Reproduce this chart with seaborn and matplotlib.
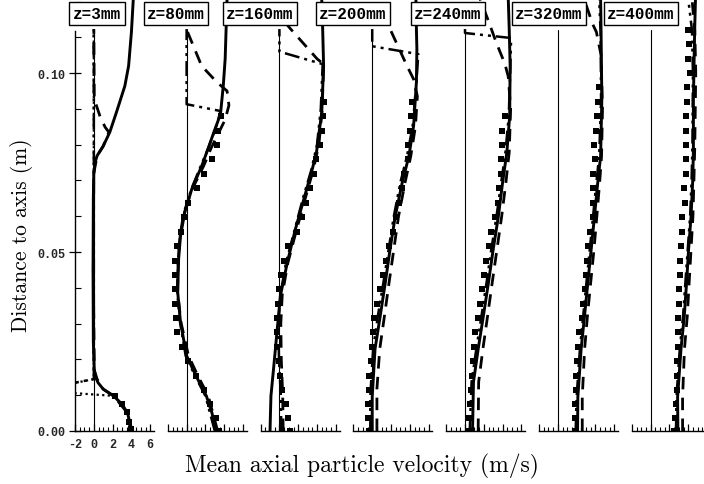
import numpy as np
import matplotlib
matplotlib.use("Agg")
import matplotlib.pyplot as plt
from matplotlib.ticker import MultipleLocator, FixedLocator
import seaborn as sns

sns.set_theme(style="white")
plt.rcParams["axes.unicode_minus"] = False

# ---------------- data ----------------
z_labels = ["z=3mm", "z=80mm", "z=160mm", "z=200mm", "z=240mm", "z=320mm", "z=400mm"]
y_ticks = [0.0, 0.05, 0.10]
y_tick_labels = ["0.00", "0.05", "0.10"]
x_ticks = [-2, 0, 2, 4, 6]
x_tick_labels = ["-2", "0", "2", "4", "6"]

# z = 3 mm
r_sol_1 = [0, 0.0025, 0.005, 0.0075, 0.0098, 0.0117, 0.0135, 0.0150, 0.0170, 0.025, 0.045, 0.065, 0.072, 0.0750, 0.0769, 0.0796, 0.0835, 0.0890, 0.0964, 0.1020, 0.1115, 0.1207]
u_sol_1 = [3.95, 3.8, 3.6, 3.0, 2.1, 1.0, 0.45, 0.2, 0.05, -0.05, -0.08, -0.05, 0.0, 0.12, 0.35, 1.0, 1.7, 2.4, 3.3, 3.7, 4.0, 4.2]
r_das_1 = [0, 0.005, 0.0098, 0.0117, 0.0145, 0.017, 0.045, 0.072, 0.0769, 0.0796, 0.0835, 0.0849, 0.088, 0.0927, 0.1123]
u_das_1 = [3.95, 3.6, 2.1, 1.0, 0.35, 0.05, -0.05, 0.0, 0.35, 1.0, 1.6, 1.2, 0.65, 0.05, 0.0]
r_dd_1 = [0.0125, 0.0145, 0.03, 0.06, 0.1123]
u_dd_1 = [-4.0, 0.0, 0.0, 0.0, 0.0]
r_dot_1 = [0, 0.005, 0.0098, 0.0113, 0.0145, 0.1123]
u_dot_1 = [3.95, 3.6, 2.2, -6.0, 0.0, 0.0]
r_exp_1 = [0.0006, 0.0025, 0.0053, 0.0075, 0.0099]
u_exp_1 = [3.92, 3.78, 3.5, 2.97, 2.25]

# z = 80 mm
r_sol_2 = [0, 0.005, 0.0098, 0.0154, 0.021, 0.0304, 0.0388, 0.048, 0.0545, 0.061, 0.0676, 0.074, 0.079, 0.0835, 0.0885, 0.0965, 0.104, 0.1123, 0.1207]
u_sol_2 = [3.1, 2.7, 2.1, 1.0, 0.0, -0.65, -0.95, -0.85, -0.65, -0.2, 0.55, 1.6, 2.3, 2.9, 3.6, 3.9, 4.1, 4.2, 4.3]
r_das_2 = [0, 0.0098, 0.0154, 0.021, 0.0304, 0.0388, 0.048, 0.0545, 0.061, 0.0676, 0.074, 0.079, 0.087, 0.091, 0.095, 0.0975, 0.102, 0.1115, 0.1123]
u_das_2 = [3.3, 2.3, 1.2, 0.2, -0.6, -0.95, -0.9, -0.7, -0.3, 0.6, 1.8, 2.6, 4.1, 4.5, 4.3, 3.2, 1.6, 0.1, 0.0]
r_dd_2 = [0, 0.0098, 0.0154, 0.021, 0.0304, 0.0388, 0.048, 0.0545, 0.061, 0.0676, 0.074, 0.079, 0.0855, 0.0894, 0.0913, 0.1123]
u_dd_2 = [3.0, 2.0, 0.9, -0.1, -0.7, -1.0, -0.9, -0.7, -0.25, 0.5, 1.5, 2.3, 3.2, 3.6, 0.0, 0.0]
r_exp_2 = [0, 0.0036, 0.0075, 0.0115, 0.0154, 0.0195, 0.0235, 0.0276, 0.0316, 0.0356, 0.0396, 0.0436, 0.0476, 0.0516, 0.0556, 0.0597, 0.0637, 0.0678, 0.0718, 0.0759, 0.0799, 0.0839, 0.0879]
u_exp_2 = [3.4, 3.1, 2.5, 1.8, 1.0, 0.1, -0.5, -1.0, -1.15, -1.2, -1.2, -1.2, -1.2, -1.05, -0.6, -0.3, 0.2, 1.1, 1.8, 2.7, 3.2, 3.3, 3.7]

# z = 160 mm
r_sol_3 = [0, 0.0098, 0.018, 0.0265, 0.0377, 0.0472, 0.0564, 0.0648, 0.0732, 0.078, 0.089, 0.102, 0.1123, 0.1207]
u_sol_3 = [-1.0, -0.9, -0.6, -0.3, 0.1, 0.85, 1.7, 2.6, 3.5, 3.95, 4.5, 4.7, 4.6, 4.5]
r_das_3 = [0, 0.01, 0.02, 0.03, 0.038, 0.047, 0.056, 0.065, 0.073, 0.08, 0.09, 0.1025, 0.104, 0.1123, 0.116]
u_das_3 = [0.4, 0.35, 0.2, 0.15, 0.3, 0.9, 1.8, 2.75, 3.6, 4.2, 4.55, 4.7, 4.0, 1.2, 0.0]
r_dd_3 = [0, 0.01, 0.02, 0.03, 0.038, 0.047, 0.056, 0.065, 0.073, 0.08, 0.09, 0.1025, 0.106, 0.1123]
u_dd_3 = [0.2, 0.15, -0.05, -0.1, 0.1, 0.7, 1.6, 2.5, 3.4, 4.0, 4.4, 4.6, 0.0, 0.0]
r_exp_3 = [0, 0.0036, 0.0075, 0.0115, 0.0154, 0.0195, 0.0235, 0.0276, 0.0316, 0.0356, 0.0396, 0.0436, 0.0476, 0.0516, 0.0556, 0.0597, 0.0637, 0.0678, 0.0718, 0.0759, 0.0799, 0.0839, 0.0879, 0.092]
u_exp_3 = [1.1, 0.95, 0.65, 0.3, 0.1, 0.0, -0.25, -0.25, -0.25, -0.2, 0.0, 0.2, 0.45, 0.95, 1.9, 2.4, 2.8, 3.3, 3.7, 3.9, 4.3, 4.5, 4.6, 4.7]

# z = 200 mm
r_sol_4 = [0, 0.0095, 0.0229, 0.0321, 0.0416, 0.0508, 0.06, 0.0695, 0.0768, 0.0852, 0.0975, 0.1067, 0.1123, 0.1207]
u_sol_4 = [0.0, 0.0, 0.3, 0.85, 1.4, 1.9, 2.45, 3.2, 3.9, 4.4, 4.7, 4.75, 4.7, 4.65]
r_das_4 = [0, 0.0117, 0.0229, 0.0321, 0.0416, 0.0508, 0.06, 0.0695, 0.0768, 0.0852, 0.0935, 0.0983, 0.102, 0.1123, 0.118]
u_das_4 = [0.5, 0.5, 0.8, 1.3, 1.8, 2.3, 2.8, 3.5, 4.1, 4.6, 4.8, 4.4, 3.7, 1.9, 0.6]
r_dd_4 = [0, 0.01, 0.0229, 0.0321, 0.0416, 0.0508, 0.06, 0.0695, 0.0768, 0.0852, 0.0975, 0.1053, 0.1075, 0.1123]
u_dd_4 = [-0.2, -0.2, 0.1, 0.6, 1.2, 1.75, 2.3, 3.0, 3.7, 4.3, 4.7, 4.9, 0.0, 0.0]
r_exp_4 = [0, 0.0036, 0.0075, 0.0115, 0.0154, 0.0195, 0.0235, 0.0276, 0.0316, 0.0356, 0.0396, 0.0436, 0.0476, 0.0516, 0.0556, 0.0597, 0.0637, 0.0678, 0.0718, 0.0759, 0.0799, 0.0839, 0.0879, 0.092]
u_exp_4 = [-0.3, -0.4, -0.4, -0.3, -0.3, -0.15, 0.0, 0.1, 0.15, 0.5, 0.8, 1.1, 1.45, 1.8, 2.2, 2.55, 2.9, 3.2, 3.4, 3.85, 3.8, 4.0, 4.15, 4.2]

# z = 240 mm
r_sol_5 = [0, 0.0137, 0.0229, 0.0321, 0.0416, 0.0508, 0.06, 0.0695, 0.0779, 0.088, 0.102, 0.1123, 0.1207]
u_sol_5 = [0.8, 0.9, 1.4, 1.95, 2.5, 3.0, 3.55, 4.0, 4.45, 4.75, 4.8, 4.7, 4.6]
r_das_5 = [0, 0.0137, 0.0229, 0.0321, 0.0416, 0.0508, 0.06, 0.0695, 0.0779, 0.09, 0.099, 0.1025, 0.1087, 0.1145, 0.1207]
u_das_5 = [1.4, 1.45, 1.9, 2.4, 2.9, 3.4, 3.9, 4.35, 4.7, 4.85, 4.6, 4.25, 3.3, 2.5, 1.6]
r_dd_5 = [0, 0.0137, 0.0229, 0.0321, 0.0416, 0.0508, 0.06, 0.0695, 0.0779, 0.088, 0.1, 0.1098, 0.1112, 0.1123]
u_dd_5 = [0.5, 0.7, 1.2, 1.75, 2.3, 2.8, 3.35, 3.85, 4.3, 4.65, 4.8, 4.9, 0.0, 0.0]
r_exp_5 = [0, 0.0036, 0.0075, 0.0115, 0.0154, 0.0195, 0.0235, 0.0276, 0.0316, 0.0356, 0.0396, 0.0436, 0.0476, 0.0516, 0.0556, 0.0597, 0.0637, 0.0678, 0.0718, 0.0759, 0.0799, 0.0839, 0.0879]
u_exp_5 = [0.4, 0.45, 0.5, 0.65, 0.7, 0.9, 1.0, 1.1, 1.4, 1.6, 1.85, 2.0, 2.25, 2.55, 2.8, 3.2, 3.55, 3.65, 3.85, 3.85, 3.95, 3.9, 4.25]

# z = 320 mm
r_sol_6 = [0, 0.0095, 0.0229, 0.0321, 0.0416, 0.0508, 0.06, 0.0695, 0.0768, 0.0927, 0.1115, 0.1207]
u_sol_6 = [2.1, 2.13, 2.48, 2.84, 3.2, 3.55, 3.9, 4.25, 4.55, 4.68, 4.6, 4.55]
r_das_6 = [0, 0.0095, 0.0229, 0.0321, 0.0416, 0.0508, 0.06, 0.0695, 0.0768, 0.09, 0.105, 0.1115, 0.1137, 0.1207]
u_das_6 = [2.6, 2.6, 2.85, 3.15, 3.5, 3.85, 4.15, 4.45, 4.65, 4.75, 4.6, 4.1, 3.7, 2.8]
r_dd_6 = [0, 0.0095, 0.0229, 0.0321, 0.0416, 0.0508, 0.06, 0.0695, 0.0768, 0.0927, 0.1115, 0.1207]
u_dd_6 = [1.9, 2.0, 2.35, 2.7, 3.05, 3.4, 3.75, 4.1, 4.4, 4.6, 4.55, 4.4]
r_exp_6 = [0, 0.0036, 0.0075, 0.0115, 0.0154, 0.0195, 0.0235, 0.0276, 0.0316, 0.0356, 0.0396, 0.0436, 0.0476, 0.0516, 0.0556, 0.0597, 0.0637, 0.0678, 0.0718, 0.0759, 0.0799, 0.0839, 0.0879, 0.092, 0.096]
u_exp_6 = [1.8, 1.8, 1.85, 1.95, 1.95, 2.05, 2.13, 2.3, 2.55, 2.66, 2.84, 3.0, 3.1, 3.26, 3.37, 3.72, 3.72, 3.72, 3.72, 3.97, 3.9, 4.08, 4.2, 4.26, 4.43]

# z = 400 mm
r_sol_7 = [0, 0.0095, 0.0229, 0.0321, 0.0416, 0.0508, 0.06, 0.0695, 0.078, 0.0927, 0.1115, 0.1207]
u_sol_7 = [2.9, 2.87, 3.23, 3.58, 3.83, 4.04, 4.3, 4.47, 4.55, 4.55, 4.68, 4.77]
r_das_7 = [0, 0.0095, 0.0229, 0.0321, 0.0416, 0.0508, 0.06, 0.0695, 0.08, 0.1, 0.112, 0.1207]
u_das_7 = [3.4, 3.4, 3.6, 3.9, 4.1, 4.3, 4.5, 4.6, 4.7, 4.8, 4.7, 4.4]
r_dd_7 = [0, 0.0095, 0.0229, 0.0321, 0.0416, 0.0508, 0.06, 0.0695, 0.08, 0.1, 0.112, 0.1207]
u_dd_7 = [2.7, 2.75, 3.1, 3.45, 3.7, 3.95, 4.2, 4.35, 4.45, 4.5, 4.4, 4.0]
r_exp_7 = [0, 0.0036, 0.0075, 0.0115, 0.0154, 0.0195, 0.0235, 0.0276, 0.0316, 0.0356, 0.0396, 0.0436, 0.0476, 0.0516, 0.0556, 0.0597, 0.0637, 0.0678, 0.0718, 0.0759, 0.0799, 0.0839, 0.0879, 0.092, 0.096, 0.1, 0.104, 0.108, 0.112]
u_exp_7 = [2.5, 2.6, 2.7, 2.77, 2.77, 2.77, 2.87, 2.87, 2.87, 2.98, 2.98, 3.12, 3.12, 3.23, 3.33, 3.33, 3.69, 3.58, 3.76, 3.76, 3.8, 3.8, 3.8, 3.9, 3.9, 4.15, 3.94, 4.1, 3.94]

panels = [
    dict(sol=(r_sol_1, u_sol_1), das=(r_das_1, u_das_1), dd=(r_dd_1, u_dd_1), dot=(r_dot_1, u_dot_1), exp=(r_exp_1, u_exp_1)),
    dict(sol=(r_sol_2, u_sol_2), das=(r_das_2, u_das_2), dd=(r_dd_2, u_dd_2), dot=None, exp=(r_exp_2, u_exp_2)),
    dict(sol=(r_sol_3, u_sol_3), das=(r_das_3, u_das_3), dd=(r_dd_3, u_dd_3), dot=None, exp=(r_exp_3, u_exp_3)),
    dict(sol=(r_sol_4, u_sol_4), das=(r_das_4, u_das_4), dd=(r_dd_4, u_dd_4), dot=None, exp=(r_exp_4, u_exp_4)),
    dict(sol=(r_sol_5, u_sol_5), das=(r_das_5, u_das_5), dd=(r_dd_5, u_dd_5), dot=None, exp=(r_exp_5, u_exp_5)),
    dict(sol=(r_sol_6, u_sol_6), das=(r_das_6, u_das_6), dd=(r_dd_6, u_dd_6), dot=None, exp=(r_exp_6, u_exp_6)),
    dict(sol=(r_sol_7, u_sol_7), das=(r_das_7, u_das_7), dd=(r_dd_7, u_dd_7), dot=None, exp=(r_exp_7, u_exp_7)),
]

# ---------------- layout ----------------
W, H = 704, 485
fig = plt.figure(figsize=(W / 100, H / 100), dpi=100)
fig.patch.set_facecolor("white")

ax_left0, ax_step, ax_w = 75, 92.8, 79
ax_bottom, ax_h = 53, 432
y_top = 0.1207
y_axis_top = 0.1117
title_x = [97, 176, 260, 353, 448, 549, 641]
mono = "Liberation Mono"
styles = {
    "sol": dict(linestyle="-", linewidth=2.1),
    "das": dict(linestyle=(0, (4.5, 3)), linewidth=2.0),
    "dd": dict(linestyle=(0, (6, 2, 1.2, 2, 1.2, 2)), linewidth=1.8),
    "dot": dict(linestyle=(0, (1, 1.5)), linewidth=1.6),
}

for k, p in enumerate(panels):
    left = ax_left0 + k * ax_step
    ax = fig.add_axes([left / W, ax_bottom / H, ax_w / W, ax_h / H])
    ax.set_facecolor("none")
    ax.axvline(0, ymin=0, ymax=0.112 / y_top, color="black", lw=0.8, zorder=1)
    for key in ["dot", "dd", "das", "sol"]:
        if p[key] is None:
            continue
        r, u = p[key]
        sns.lineplot(x=u, y=r, sort=False, estimator=None, color="black", ax=ax,
                     zorder=3, **styles[key])
    r, u = p["exp"]
    sns.scatterplot(x=u, y=r, marker="s", s=20, color="black", linewidth=0, ax=ax, zorder=4)

    ax.set_xlim(-2, 6.4)
    ax.set_ylim(0, y_top)
    ax.set_xlabel("")
    ax.set_ylabel("")
    for s in ["top", "right"]:
        ax.spines[s].set_visible(False)
    ax.spines["bottom"].set_color("black")
    ax.spines["bottom"].set_linewidth(1.0)
    ax.xaxis.set_major_locator(FixedLocator(x_ticks))
    ax.xaxis.set_minor_locator(MultipleLocator(0.5))
    ax.tick_params(axis="x", which="major", direction="in", length=5, width=0.9,
                   color="black", bottom=True, pad=5)
    ax.tick_params(axis="x", which="minor", direction="in", length=3, width=0.8,
                   color="black", bottom=True)
    if k == 0:
        ax.set_xticklabels(x_tick_labels, fontfamily=mono, fontweight="bold", fontsize=8.5)
        ax.spines["left"].set_bounds(0, y_axis_top)
        ax.spines["left"].set_color("black")
        ax.spines["left"].set_linewidth(1.0)
        ax.yaxis.set_major_locator(FixedLocator(y_ticks))
        ax.yaxis.set_minor_locator(MultipleLocator(0.01))
        ax.set_yticklabels(y_tick_labels, fontfamily=mono, fontweight="bold", fontsize=8.5)
        ax.tick_params(axis="y", which="major", direction="inout", length=8, width=0.9,
                       color="black", left=True, pad=3)
        ax.tick_params(axis="y", which="minor", direction="in", length=4, width=0.8,
                       color="black", left=True)
    else:
        ax.set_xticklabels([])
        ax.spines["left"].set_visible(False)
        ax.set_yticks([])

for k, lab in enumerate(z_labels):
    fig.text(title_x[k] / W, 1 - 14.5 / H, lab, ha="center", va="center",
             fontfamily=mono, fontweight="bold", fontsize=11.5, color="black", zorder=10,
             bbox=dict(boxstyle="square,pad=0.22", facecolor="white", edgecolor="black", linewidth=1.0))

fig.text(362 / W, 1 - 466 / H, "Mean axial particle velocity (m/s)", ha="center", va="center",
         fontfamily="cmr10", fontsize=17, color="black")
fig.text(22 / W, 1 - 235 / H, "Distance to axis (m)", ha="center", va="center", rotation=90,
         fontfamily="cmr10", fontsize=15.5, color="black")

fig.savefig("out.png", dpi=100, facecolor="white")
